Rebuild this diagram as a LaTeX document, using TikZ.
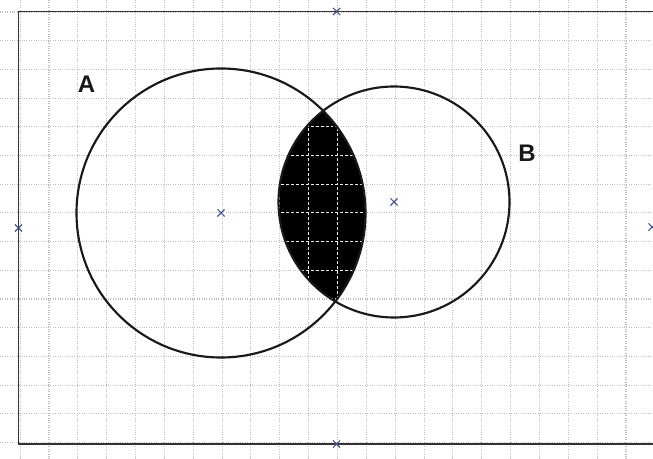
\documentclass[tikz,border=0pt]{standalone}
\usepackage{fontspec}
\setmainfont{Liberation Sans}
\usetikzlibrary{shapes.misc}
\definecolor{gridgray}{HTML}{BEBEBE}
\definecolor{markblue}{HTML}{4A5590}
\tikzset{
  gridline/.style={gridgray, densely dotted, line width=0.8pt},
  lensgrid/.style={white!85!gray, dashed, dash pattern=on 2.2pt off 1.5pt, line width=0.9pt},
  framestyle/.style={draw=black!80, line width=1.1pt},
  setcircle/.style={draw=black!90, line width=1.6pt},
  marker/.style={cross out, draw=markblue, line width=0.8pt, minimum size=4.5pt, inner sep=0pt},
  setlabel/.style={font=\fontsize{18}{18}\selectfont\bfseries, inner sep=0pt, text=black!90}
}
\begin{document}
\begin{tikzpicture}[x=0.75pt,y=-0.75pt]
\useasboundingbox (0,0) rectangle (653,459);
\clip (0,0) rectangle (653,459);
\fill[white] (0,0) rectangle (653,459);
% grid
\foreach \k in {-1,...,22} {
  \draw[gridline] ({20.15+28.85*\k},0) -- ({20.15+28.85*\k},459);
}
\foreach \k in {0,...,15} {
  \draw[gridline] (0,{12+28.7*\k}) -- (653,{12+28.7*\k});
}
% frame
\draw[framestyle] (18.5,11.5) rectangle (660,444);
% centres
\coordinate (cA) at (221,213);
\coordinate (cB) at (394,202);
% lens
\begin{scope}
  \clip (cA) circle[radius=144.5];
  \fill[black] (cB) circle[radius=115.5];
  \clip (cB) circle[radius=115.5];
  \foreach \k in {-1,...,22} {
    \draw[lensgrid] ({20.15+28.85*\k},0) -- ({20.15+28.85*\k},459);
  }
  \foreach \k in {0,...,15} {
    \draw[lensgrid] (0,{12+28.7*\k}) -- (653,{12+28.7*\k});
  }
\end{scope}
% circles
\node[setcircle, circle, minimum size=216.75pt, inner sep=0pt] (circA) at (cA) {};
\node[setcircle, circle, minimum size=173.25pt, inner sep=0pt] (circB) at (cB) {};
% labels
\node[setlabel] (labA) at (86.5,84) {A};
\node[setlabel] (labB) at (527,153.5) {B};
% markers
\node[marker] (mA) at (cA) {};
\node[marker] (mB) at (cB) {};
\node[marker] (mL) at (18.5,228) {};
\node[marker] (mT) at (336.5,11.5) {};
\node[marker] (mBot) at (336.5,444) {};
\node[marker] (mR) at (652,227) {};
\end{tikzpicture}
\end{document}
